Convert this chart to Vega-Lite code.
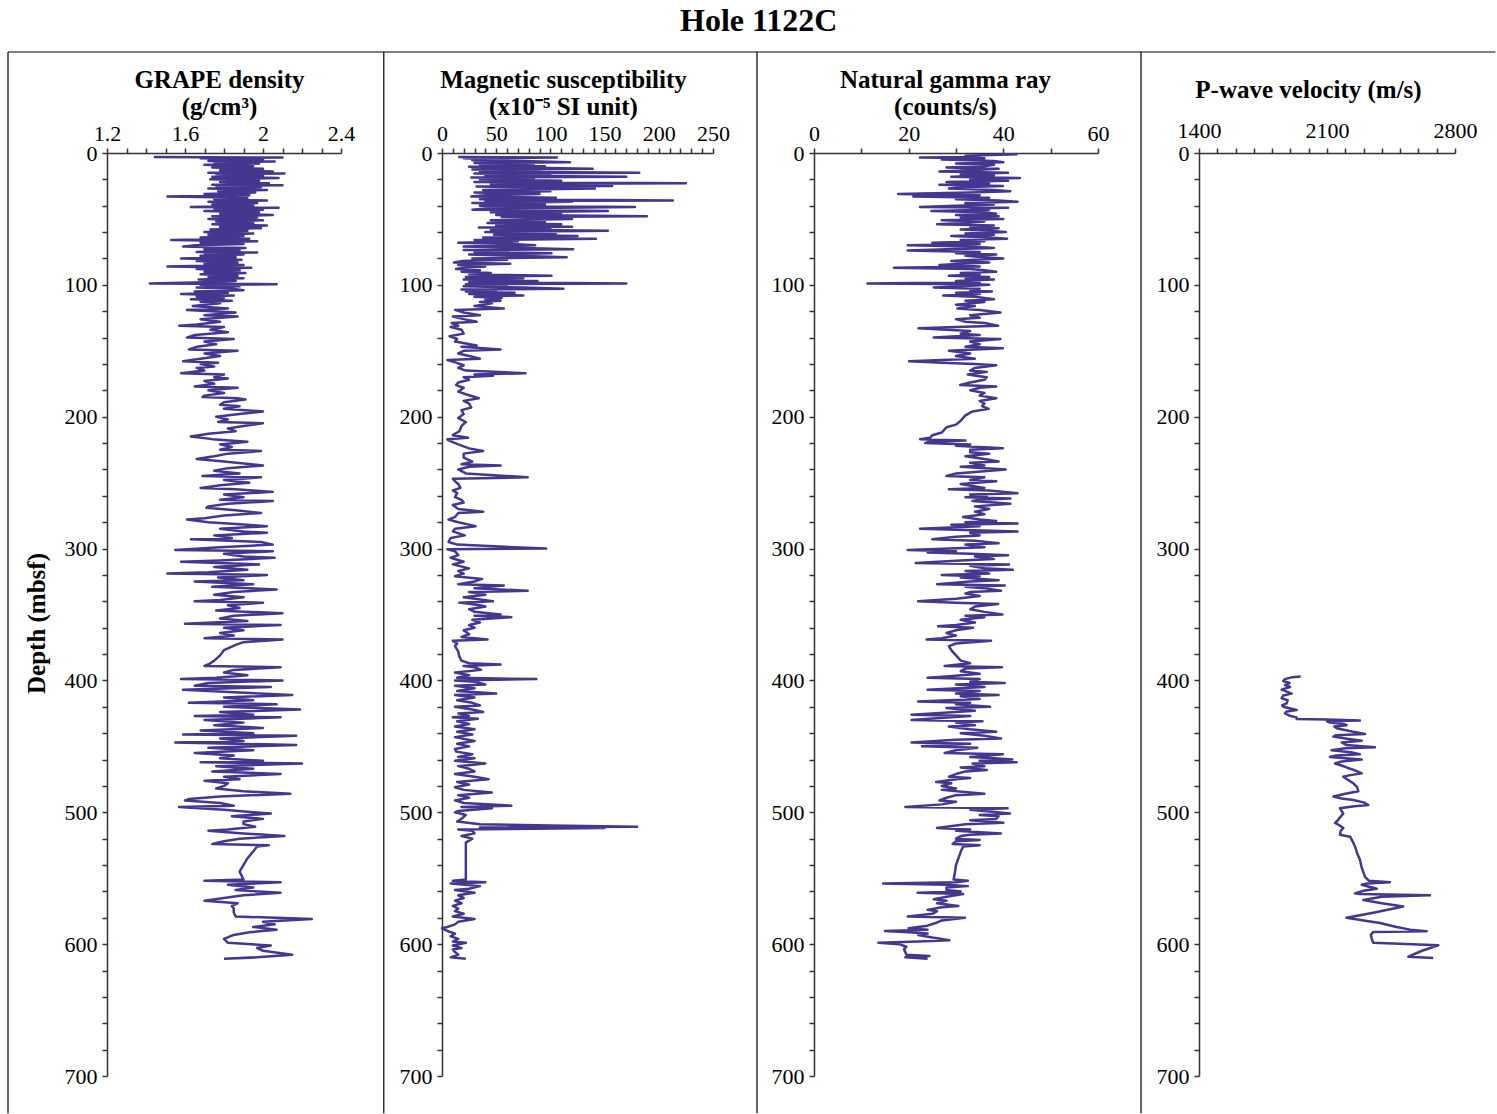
{
"$schema": "https://vega.github.io/schema/vega-lite/v6.json",
"padding": {"left": 7, "top": 5, "right": 0, "bottom": 0},
"title": {"text": "Hole 1122C", "fontSize": 32, "font": "Liberation Serif", "fontWeight": "bold", "color": "black", "offset": 13, "anchor": "middle", "dx": 7},
"bounds": "flush",
"spacing": 101,
"config": {
 "font": "Liberation Serif",
 "view": {"stroke": null},
 "axis": {"labelFont": "Liberation Serif", "labelFontSize": 22, "labelColor": "black", "titleFont": "Liberation Serif", "titleFontSize": 25, "titleFontWeight": "bold", "titleColor": "black", "domainColor": "#333", "domainWidth": 1.5, "tickColor": "#333", "tickWidth": 1.5, "tickSize": 5, "tickCount": 500, "grid": false, "labelFlush": false, "labelOverlap": false, "labelPadding": 3},
 "axisY": {"labelPadding": 5},
 "line": {"color": "#45368f", "strokeWidth": 2.5, "strokeJoin": "round"},
 "rule": {"color": "black", "strokeWidth": 1.2}
},
"datasets": {
"p1": [{"d":3,"v":1.44},{"d":3.5,"v":2.10},{"d":4,"v":1.68},{"d":5,"v":2.0},{"d":6,"v":1.72},{"d":6.5,"v":2.06},{"d":7,"v":1.75},{"d":8,"v":1.98},{"d":9,"v":1.7},{"d":10,"v":1.95},{"d":11,"v":1.74},{"d":12,"v":2.0},{"d":13,"v":1.78},{"d":14,"v":2.05},{"d":15,"v":1.72},{"d":15.5,"v":2.11},{"d":16,"v":1.76},{"d":17,"v":2.0},{"d":18,"v":1.74},{"d":19,"v":2.08},{"d":20,"v":1.73},{"d":21,"v":1.98},{"d":22,"v":1.78},{"d":23,"v":2.03},{"d":24,"v":1.74},{"d":24.5,"v":2.1},{"d":25,"v":1.76},{"d":26,"v":1.99},{"d":27,"v":1.72},{"d":28,"v":2.02},{"d":29,"v":1.77},{"d":30,"v":1.96},{"d":31,"v":1.7},{"d":32,"v":1.93},{"d":33,"v":1.51},{"d":34,"v":1.92},{"d":35,"v":1.75},{"d":36,"v":2.02},{"d":37,"v":1.72},{"d":38,"v":1.97},{"d":39,"v":1.74},{"d":40,"v":1.95},{"d":41,"v":1.63},{"d":41.5,"v":2.08},{"d":42,"v":1.75},{"d":43,"v":2.0},{"d":44,"v":1.7},{"d":45,"v":1.98},{"d":46,"v":1.78},{"d":47,"v":2.05},{"d":48,"v":1.74},{"d":49,"v":1.97},{"d":50,"v":1.72},{"d":51,"v":2.0},{"d":52,"v":1.76},{"d":53,"v":1.95},{"d":54,"v":1.74},{"d":55,"v":2.02},{"d":56,"v":1.78},{"d":57,"v":1.99},{"d":58,"v":1.73},{"d":59,"v":1.92},{"d":60,"v":1.7},{"d":61,"v":1.95},{"d":62,"v":1.72},{"d":63,"v":1.9},{"d":64,"v":1.68},{"d":65,"v":1.93},{"d":66,"v":1.53},{"d":67,"v":1.97},{"d":68,"v":1.68},{"d":69,"v":1.9},{"d":70,"v":1.65},{"d":71,"v":1.59},{"d":72,"v":1.91},{"d":73,"v":1.7},{"d":74,"v":1.88},{"d":75,"v":1.66},{"d":75.5,"v":1.97},{"d":76,"v":1.7},{"d":77,"v":1.9},{"d":78,"v":1.68},{"d":79,"v":1.86},{"d":80,"v":1.58},{"d":81,"v":1.89},{"d":82,"v":1.66},{"d":83,"v":1.87},{"d":84,"v":1.7},{"d":85,"v":1.9},{"d":86,"v":1.51},{"d":87,"v":1.94},{"d":88,"v":1.66},{"d":89,"v":1.88},{"d":90,"v":1.7},{"d":91,"v":1.91},{"d":92,"v":1.68},{"d":93,"v":1.87},{"d":94,"v":1.72},{"d":95,"v":1.9},{"d":96,"v":1.67},{"d":97,"v":1.86},{"d":98,"v":1.7},{"d":99,"v":1.42},{"d":99.5,"v":2.07},{"d":100,"v":1.68},{"d":101,"v":1.88},{"d":102,"v":1.66},{"d":103,"v":1.84},{"d":104,"v":1.9},{"d":105,"v":1.65},{"d":106,"v":1.82},{"d":107,"v":1.58},{"d":108,"v":1.85},{"d":109,"v":1.66},{"d":110,"v":1.8},{"d":111,"v":1.63},{"d":112,"v":1.84},{"d":113,"v":1.68},{"d":114,"v":1.78},{"d":116,"v":1.64},{"d":118,"v":1.82},{"d":119,"v":1.61},{"d":121,"v":1.86},{"d":123,"v":1.7},{"d":124,"v":1.87},{"d":126,"v":1.68},{"d":128,"v":1.78},{"d":130,"v":1.66},{"d":131,"v":1.57},{"d":132,"v":1.8},{"d":134,"v":1.73},{"d":136,"v":1.82},{"d":138,"v":1.65},{"d":140,"v":1.61},{"d":141,"v":1.85},{"d":143,"v":1.7},{"d":145,"v":1.76},{"d":147,"v":1.66},{"d":149,"v":1.62},{"d":150,"v":1.87},{"d":152,"v":1.7},{"d":154,"v":1.78},{"d":156,"v":1.68},{"d":158,"v":1.59},{"d":159,"v":1.77},{"d":160,"v":1.68},{"d":162,"v":1.75},{"d":163,"v":1.66},{"d":165,"v":1.7},{"d":167,"v":1.58},{"d":168,"v":1.8},{"d":170,"v":1.75},{"d":171,"v":1.82},{"d":173,"v":1.7},{"d":175,"v":1.75},{"d":177,"v":1.65},{"d":178,"v":1.87},{"d":180,"v":1.72},{"d":182,"v":1.8},{"d":184,"v":1.7},{"d":185,"v":1.69},{"d":186,"v":1.87},{"d":187,"v":1.91},{"d":189,"v":1.8},{"d":191,"v":1.78},{"d":192,"v":1.88},{"d":194,"v":1.8},{"d":196,"v":2.0},{"d":198,"v":1.88},{"d":200,"v":1.76},{"d":202,"v":1.82},{"d":204,"v":1.77},{"d":205,"v":2.0},{"d":207,"v":1.9},{"d":209,"v":1.82},{"d":211,"v":1.86},{"d":213,"v":1.72},{"d":215,"v":1.63},{"d":217,"v":1.74},{"d":219,"v":1.92},{"d":221,"v":1.78},{"d":223,"v":1.84},{"d":225,"v":1.78},{"d":226,"v":1.99},{"d":228,"v":1.82},{"d":230,"v":1.75},{"d":232,"v":1.66},{"d":234,"v":1.8},{"d":236,"v":1.94},{"d":237,"v":2.0},{"d":239,"v":1.82},{"d":241,"v":1.75},{"d":243,"v":1.88},{"d":245,"v":1.69},{"d":246,"v":1.99},{"d":248,"v":1.8},{"d":250,"v":1.93},{"d":252,"v":1.78},{"d":254,"v":1.68},{"d":255,"v":1.86},{"d":257,"v":2.05},{"d":259,"v":1.8},{"d":261,"v":1.9},{"d":263,"v":1.78},{"d":264,"v":2.05},{"d":266,"v":1.82},{"d":268,"v":1.72},{"d":269,"v":1.71},{"d":271,"v":1.86},{"d":273,"v":1.99},{"d":275,"v":1.8},{"d":277,"v":1.7},{"d":278,"v":1.61},{"d":280,"v":1.72},{"d":282,"v":1.92},{"d":283,"v":2.02},{"d":285,"v":1.78},{"d":287,"v":1.9},{"d":288,"v":2.02},{"d":290,"v":1.75},{"d":292,"v":1.84},{"d":293,"v":1.63},{"d":295,"v":1.99},{"d":297,"v":2.05},{"d":299,"v":1.78},{"d":301,"v":1.55},{"d":302,"v":2.05},{"d":304,"v":1.8},{"d":306,"v":1.9},{"d":307,"v":2.06},{"d":309,"v":1.78},{"d":310,"v":1.58},{"d":312,"v":1.98},{"d":314,"v":1.75},{"d":316,"v":1.92},{"d":318,"v":1.72},{"d":319,"v":1.51},{"d":320,"v":2.02},{"d":322,"v":1.77},{"d":324,"v":1.9},{"d":325,"v":1.65},{"d":327,"v":1.95},{"d":329,"v":1.74},{"d":331,"v":2.07},{"d":333,"v":1.85},{"d":335,"v":1.75},{"d":337,"v":1.9},{"d":339,"v":1.78},{"d":340,"v":1.65},{"d":341,"v":2.0},{"d":343,"v":1.82},{"d":345,"v":1.88},{"d":347,"v":1.76},{"d":349,"v":2.1},{"d":351,"v":1.85},{"d":353,"v":1.78},{"d":355,"v":1.92},{"d":357,"v":1.6},{"d":358,"v":2.09},{"d":360,"v":1.8},{"d":362,"v":1.9},{"d":364,"v":1.78},{"d":366,"v":1.85},{"d":368,"v":1.7},{"d":369,"v":2.1},{"d":371,"v":1.9},{"d":373,"v":1.86},{"d":377,"v":1.8},{"d":381,"v":1.78},{"d":385,"v":1.75},{"d":387,"v":1.73},{"d":389,"v":1.7},{"d":390,"v":2.09},{"d":392,"v":1.85},{"d":394,"v":1.8},{"d":396,"v":1.92},{"d":398,"v":1.76},{"d":399,"v":1.58},{"d":400,"v":2.1},{"d":402,"v":1.72},{"d":404,"v":1.65},{"d":405,"v":2.04},{"d":407,"v":1.59},{"d":409,"v":1.85},{"d":411,"v":2.15},{"d":413,"v":1.8},{"d":415,"v":1.95},{"d":417,"v":1.62},{"d":418,"v":2.07},{"d":420,"v":1.8},{"d":422,"v":2.19},{"d":424,"v":1.78},{"d":426,"v":1.95},{"d":427,"v":1.65},{"d":428,"v":2.09},{"d":430,"v":1.7},{"d":432,"v":1.9},{"d":434,"v":1.75},{"d":436,"v":2.0},{"d":438,"v":1.68},{"d":440,"v":1.95},{"d":441,"v":1.59},{"d":442,"v":2.17},{"d":444,"v":1.78},{"d":446,"v":1.9},{"d":447,"v":1.55},{"d":449,"v":2.17},{"d":451,"v":1.72},{"d":453,"v":1.95},{"d":455,"v":1.65},{"d":457,"v":1.85},{"d":459,"v":1.78},{"d":461,"v":2.0},{"d":462,"v":1.68},{"d":463,"v":2.2},{"d":465,"v":1.76},{"d":467,"v":1.95},{"d":469,"v":1.74},{"d":471,"v":2.09},{"d":473,"v":1.8},{"d":475,"v":1.88},{"d":476,"v":1.7},{"d":478,"v":1.82},{"d":480,"v":1.8},{"d":482,"v":1.76},{"d":484,"v":1.9},{"d":486,"v":2.14},{"d":488,"v":1.78},{"d":490,"v":1.62},{"d":491,"v":1.6},{"d":493,"v":1.78},{"d":495,"v":1.85},{"d":496,"v":1.57},{"d":498,"v":1.8},{"d":500,"v":1.95},{"d":501,"v":2.04},{"d":503,"v":1.84},{"d":505,"v":2.0},{"d":507,"v":1.9},{"d":509,"v":1.9},{"d":511,"v":1.96},{"d":513,"v":1.82},{"d":514,"v":1.72},{"d":516,"v":1.9},{"d":518,"v":2.11},{"d":520,"v":1.88},{"d":522,"v":1.8},{"d":524,"v":1.74},{"d":525,"v":2.03},{"d":526,"v":1.97},{"d":535,"v":1.92},{"d":545,"v":1.88},{"d":551,"v":1.9},{"d":552,"v":1.7},{"d":553,"v":2.09},{"d":555,"v":1.82},{"d":557,"v":1.95},{"d":559,"v":1.86},{"d":561,"v":2.09},{"d":563,"v":1.9},{"d":565,"v":1.8},{"d":567,"v":1.7},{"d":569,"v":1.87},{"d":571,"v":1.84},{"d":573,"v":1.85},{"d":576,"v":1.85},{"d":579,"v":1.86},{"d":581,"v":2.25},{"d":583,"v":2.0},{"d":585,"v":2.06},{"d":587,"v":1.95},{"d":589,"v":2.07},{"d":591,"v":1.93},{"d":593,"v":1.85},{"d":596,"v":1.8},{"d":599,"v":1.82},{"d":601,"v":2.04},{"d":603,"v":1.97},{"d":605,"v":2.0},{"d":608,"v":2.15},{"d":610,"v":1.97},{"d":611,"v":1.8}],
"p2": [{"d":3,"v":15},{"d":3.5,"v":106},{"d":4,"v":20},{"d":5,"v":45},{"d":5.5,"v":28},{"d":6,"v":75},{"d":7,"v":118},{"d":7.5,"v":30},{"d":8,"v":85},{"d":9,"v":35},{"d":10,"v":95},{"d":10.5,"v":25},{"d":11,"v":70},{"d":12,"v":139},{"d":12.5,"v":28},{"d":13,"v":90},{"d":14,"v":35},{"d":15,"v":182},{"d":15.5,"v":30},{"d":16,"v":100},{"d":17,"v":40},{"d":18,"v":170},{"d":18.5,"v":27},{"d":19,"v":85},{"d":20,"v":35},{"d":21,"v":110},{"d":22,"v":30},{"d":23,"v":225},{"d":23.5,"v":45},{"d":24,"v":95},{"d":25,"v":157},{"d":25.5,"v":32},{"d":26,"v":80},{"d":27,"v":141},{"d":28,"v":38},{"d":29,"v":100},{"d":30,"v":30},{"d":31,"v":90},{"d":32,"v":40},{"d":33,"v":27},{"d":34,"v":105},{"d":35,"v":35},{"d":36,"v":213},{"d":36.5,"v":40},{"d":37,"v":120},{"d":38,"v":28},{"d":39,"v":95},{"d":40,"v":35},{"d":41,"v":178},{"d":42,"v":40},{"d":43,"v":28},{"d":44,"v":153},{"d":45,"v":45},{"d":46,"v":110},{"d":47,"v":50},{"d":48,"v":189},{"d":48.5,"v":55},{"d":49,"v":100},{"d":50,"v":120},{"d":51,"v":45},{"d":52,"v":95},{"d":53,"v":42},{"d":54,"v":110},{"d":55,"v":50},{"d":56,"v":120},{"d":56.5,"v":34},{"d":57,"v":100},{"d":58,"v":45},{"d":59,"v":153},{"d":60,"v":40},{"d":61,"v":105},{"d":62,"v":48},{"d":63,"v":125},{"d":64,"v":38},{"d":65,"v":142},{"d":66,"v":30},{"d":67,"v":70},{"d":68,"v":15},{"d":69,"v":65},{"d":70,"v":86},{"d":71,"v":20},{"d":72,"v":75},{"d":73,"v":121},{"d":73.5,"v":20},{"d":74,"v":60},{"d":75,"v":30},{"d":76,"v":101},{"d":77,"v":25},{"d":78,"v":70},{"d":79,"v":115},{"d":80,"v":28},{"d":81,"v":60},{"d":82,"v":18},{"d":83,"v":11},{"d":84,"v":63},{"d":85,"v":15},{"d":86,"v":40},{"d":87,"v":20},{"d":88,"v":13},{"d":89,"v":35},{"d":90,"v":18},{"d":91,"v":45},{"d":92,"v":25},{"d":93,"v":101},{"d":94,"v":22},{"d":95,"v":75},{"d":96,"v":20},{"d":97,"v":88},{"d":98,"v":25},{"d":99,"v":170},{"d":99.5,"v":22},{"d":100,"v":60},{"d":101,"v":20},{"d":102,"v":75},{"d":103,"v":112},{"d":103.5,"v":18},{"d":104,"v":50},{"d":105,"v":22},{"d":106,"v":67},{"d":107,"v":25},{"d":108,"v":75},{"d":109,"v":30},{"d":110,"v":55},{"d":111,"v":40},{"d":112,"v":54},{"d":113,"v":35},{"d":114,"v":46},{"d":116,"v":30},{"d":118,"v":57},{"d":119,"v":12},{"d":121,"v":20},{"d":123,"v":35},{"d":124,"v":10},{"d":126,"v":20},{"d":128,"v":32},{"d":129,"v":9},{"d":131,"v":15},{"d":132,"v":8},{"d":134,"v":18},{"d":137,"v":20},{"d":139,"v":7},{"d":141,"v":14},{"d":143,"v":12},{"d":146,"v":32},{"d":147,"v":18},{"d":149,"v":54},{"d":150,"v":20},{"d":152,"v":15},{"d":154,"v":25},{"d":156,"v":35},{"d":157,"v":5},{"d":159,"v":13},{"d":161,"v":20},{"d":163,"v":15},{"d":165,"v":22},{"d":167,"v":77},{"d":168,"v":30},{"d":169,"v":47},{"d":170,"v":20},{"d":172,"v":25},{"d":174,"v":15},{"d":176,"v":13},{"d":178,"v":20},{"d":181,"v":15},{"d":183,"v":22},{"d":186,"v":34},{"d":188,"v":20},{"d":190,"v":25},{"d":193,"v":27},{"d":195,"v":18},{"d":198,"v":20},{"d":201,"v":15},{"d":204,"v":22},{"d":207,"v":18},{"d":211,"v":16},{"d":214,"v":10},{"d":216,"v":24},{"d":217,"v":5},{"d":218,"v":6},{"d":221,"v":15},{"d":224,"v":25},{"d":226,"v":38},{"d":228,"v":20},{"d":231,"v":20},{"d":234,"v":28},{"d":236,"v":18},{"d":237,"v":54},{"d":238,"v":25},{"d":240,"v":15},{"d":243,"v":22},{"d":246,"v":79},{"d":247,"v":10},{"d":249,"v":12},{"d":251,"v":15},{"d":254,"v":17},{"d":256,"v":10},{"d":258,"v":14},{"d":261,"v":12},{"d":263,"v":18},{"d":265,"v":20},{"d":267,"v":10},{"d":270,"v":15},{"d":272,"v":38},{"d":273,"v":15},{"d":276,"v":12},{"d":278,"v":6},{"d":280,"v":15},{"d":283,"v":31},{"d":285,"v":12},{"d":287,"v":10},{"d":290,"v":21},{"d":292,"v":8},{"d":295,"v":6},{"d":297,"v":14},{"d":300,"v":96},{"d":300.5,"v":5},{"d":302,"v":12},{"d":305,"v":15},{"d":307,"v":8},{"d":310,"v":20},{"d":312,"v":10},{"d":315,"v":25},{"d":317,"v":15},{"d":319,"v":20},{"d":321,"v":12},{"d":323,"v":37},{"d":325,"v":30},{"d":327,"v":15},{"d":328,"v":57},{"d":330,"v":30},{"d":332,"v":79},{"d":333,"v":25},{"d":335,"v":40},{"d":337,"v":20},{"d":340,"v":47},{"d":341,"v":16},{"d":343,"v":35},{"d":344,"v":40},{"d":346,"v":25},{"d":348,"v":30},{"d":350,"v":54},{"d":351,"v":30},{"d":352,"v":64},{"d":354,"v":28},{"d":356,"v":35},{"d":358,"v":25},{"d":360,"v":30},{"d":362,"v":20},{"d":365,"v":25},{"d":367,"v":18},{"d":369,"v":42},{"d":370,"v":10},{"d":372,"v":14},{"d":374,"v":12},{"d":378,"v":15},{"d":382,"v":16},{"d":385,"v":18},{"d":387,"v":25},{"d":388,"v":54},{"d":389,"v":20},{"d":390,"v":30},{"d":392,"v":36},{"d":394,"v":12},{"d":396,"v":25},{"d":398,"v":14},{"d":399,"v":87},{"d":400,"v":12},{"d":401,"v":30},{"d":403,"v":40},{"d":404,"v":12},{"d":406,"v":30},{"d":408,"v":14},{"d":410,"v":50},{"d":411,"v":12},{"d":413,"v":30},{"d":415,"v":14},{"d":417,"v":28},{"d":419,"v":35},{"d":420,"v":12},{"d":422,"v":28},{"d":424,"v":38},{"d":425,"v":15},{"d":427,"v":25},{"d":428,"v":10},{"d":429,"v":33},{"d":431,"v":14},{"d":433,"v":25},{"d":435,"v":12},{"d":437,"v":30},{"d":439,"v":14},{"d":441,"v":28},{"d":443,"v":12},{"d":446,"v":30},{"d":448,"v":14},{"d":450,"v":25},{"d":452,"v":12},{"d":454,"v":13},{"d":456,"v":28},{"d":458,"v":15},{"d":459,"v":30},{"d":461,"v":12},{"d":463,"v":40},{"d":465,"v":15},{"d":467,"v":25},{"d":469,"v":30},{"d":471,"v":12},{"d":473,"v":30},{"d":475,"v":43},{"d":477,"v":14},{"d":479,"v":25},{"d":481,"v":12},{"d":483,"v":20},{"d":485,"v":46},{"d":487,"v":15},{"d":489,"v":25},{"d":491,"v":12},{"d":493,"v":20},{"d":495,"v":64},{"d":496,"v":18},{"d":497,"v":46},{"d":499,"v":15},{"d":500,"v":12},{"d":502,"v":22},{"d":505,"v":18},{"d":507,"v":14},{"d":509,"v":35},{"d":510,"v":100},{"d":511,"v":180},{"d":511.5,"v":35},{"d":512,"v":150},{"d":513,"v":15},{"d":514,"v":28},{"d":516,"v":30},{"d":518,"v":18},{"d":520,"v":28},{"d":523,"v":22},{"d":535,"v":22},{"d":545,"v":22},{"d":551,"v":22},{"d":552,"v":10},{"d":553,"v":40},{"d":554,"v":8},{"d":556,"v":35},{"d":558,"v":25},{"d":559,"v":12},{"d":561,"v":30},{"d":563,"v":15},{"d":565,"v":20},{"d":567,"v":12},{"d":569,"v":18},{"d":571,"v":10},{"d":573,"v":15},{"d":575,"v":12},{"d":577,"v":20},{"d":579,"v":10},{"d":581,"v":30},{"d":583,"v":15},{"d":585,"v":12},{"d":587,"v":5},{"d":588,"v":0},{"d":590,"v":5},{"d":592,"v":12},{"d":594,"v":8},{"d":596,"v":15},{"d":598,"v":10},{"d":599,"v":22},{"d":601,"v":10},{"d":603,"v":18},{"d":604,"v":10},{"d":606,"v":12},{"d":608,"v":15},{"d":610,"v":8},{"d":611,"v":22}],
"p3": [{"d":1,"v":43},{"d":2,"v":32},{"d":3,"v":35},{"d":3.5,"v":22.4},{"d":4,"v":36},{"d":5,"v":27},{"d":6,"v":38},{"d":7,"v":40},{"d":8,"v":30},{"d":9,"v":38},{"d":10,"v":36},{"d":11,"v":28},{"d":12,"v":39},{"d":13,"v":33},{"d":14,"v":26.5},{"d":15,"v":41},{"d":16,"v":31},{"d":17,"v":38},{"d":18,"v":29},{"d":19,"v":43.5},{"d":20,"v":33},{"d":21,"v":41},{"d":22,"v":28},{"d":23,"v":37},{"d":24,"v":26.5},{"d":25,"v":39.9},{"d":26,"v":31},{"d":27,"v":28.5},{"d":28,"v":38},{"d":29,"v":41.5},{"d":30,"v":33},{"d":31,"v":17.8},{"d":32,"v":35},{"d":33,"v":21},{"d":34,"v":37},{"d":35,"v":30},{"d":36,"v":39},{"d":37,"v":43},{"d":38,"v":32},{"d":39,"v":38},{"d":40,"v":30},{"d":41,"v":22.4},{"d":41.5,"v":41},{"d":42,"v":33},{"d":43,"v":37},{"d":44,"v":24.8},{"d":45,"v":36},{"d":46,"v":38.5},{"d":47,"v":30},{"d":48,"v":39},{"d":49,"v":31},{"d":50,"v":40},{"d":51,"v":27},{"d":52,"v":36},{"d":53,"v":32},{"d":54,"v":26},{"d":55,"v":38},{"d":56,"v":33},{"d":57,"v":39},{"d":58,"v":31},{"d":59,"v":37},{"d":60,"v":40.5},{"d":61,"v":32},{"d":62,"v":38},{"d":63,"v":29},{"d":64,"v":37},{"d":65,"v":40.8},{"d":66,"v":31},{"d":67,"v":36},{"d":68,"v":25},{"d":69,"v":35},{"d":70,"v":19.8},{"d":71,"v":33},{"d":72,"v":38},{"d":73,"v":28},{"d":74,"v":19.8},{"d":75,"v":35},{"d":76,"v":30},{"d":77,"v":38.5},{"d":78,"v":32},{"d":79,"v":36},{"d":80,"v":40},{"d":81,"v":34},{"d":82,"v":29},{"d":83,"v":37},{"d":84,"v":31},{"d":85,"v":26.5},{"d":86,"v":35},{"d":87,"v":16.9},{"d":88,"v":33},{"d":89,"v":36},{"d":90,"v":38.5},{"d":91,"v":31},{"d":92,"v":35},{"d":93,"v":28.5},{"d":94,"v":37},{"d":95,"v":32},{"d":96,"v":38},{"d":97,"v":30},{"d":98,"v":35},{"d":99,"v":11.3},{"d":99.5,"v":34},{"d":100,"v":37},{"d":101,"v":31},{"d":102,"v":25.3},{"d":103,"v":35},{"d":104,"v":33},{"d":105,"v":37.6},{"d":106,"v":30},{"d":107,"v":35},{"d":108,"v":27.3},{"d":109,"v":34},{"d":110,"v":36},{"d":111,"v":38},{"d":112,"v":32},{"d":113,"v":36},{"d":115,"v":30},{"d":116,"v":34},{"d":118,"v":30.3},{"d":119,"v":35},{"d":121,"v":39.4},{"d":123,"v":33},{"d":125,"v":35},{"d":126,"v":30},{"d":128,"v":32},{"d":129,"v":36},{"d":131,"v":38.9},{"d":132,"v":30},{"d":133,"v":22.1},{"d":134,"v":28},{"d":135,"v":33},{"d":137,"v":31},{"d":138,"v":35},{"d":140,"v":25.3},{"d":141,"v":39.4},{"d":143,"v":33},{"d":145,"v":35},{"d":147,"v":32},{"d":148,"v":39.9},{"d":149,"v":34},{"d":150,"v":28.5},{"d":152,"v":33},{"d":154,"v":30},{"d":156,"v":34},{"d":158,"v":20.1},{"d":159,"v":27},{"d":160,"v":34},{"d":161,"v":38.5},{"d":163,"v":34},{"d":165,"v":33},{"d":166,"v":36.5},{"d":168,"v":32.5},{"d":170,"v":36.5},{"d":172,"v":36},{"d":174,"v":33},{"d":176,"v":30.9},{"d":177,"v":38.5},{"d":178,"v":35},{"d":180,"v":33},{"d":182,"v":36},{"d":184,"v":35},{"d":186,"v":38.5},{"d":188,"v":35},{"d":190,"v":36},{"d":192,"v":35.5},{"d":194,"v":36.9},{"d":196,"v":33.5},{"d":199,"v":32},{"d":203,"v":31},{"d":206,"v":30},{"d":208,"v":28},{"d":210,"v":27.5},{"d":212,"v":27},{"d":214,"v":25},{"d":216,"v":24.5},{"d":217,"v":22.4},{"d":218,"v":32},{"d":219,"v":24.5},{"d":220,"v":23.5},{"d":221,"v":33},{"d":222,"v":30},{"d":224,"v":39.9},{"d":225,"v":33},{"d":227,"v":33},{"d":228,"v":37},{"d":230,"v":32},{"d":232,"v":36},{"d":234,"v":39},{"d":235,"v":33},{"d":237,"v":36},{"d":238,"v":31},{"d":240,"v":40.5},{"d":242,"v":34},{"d":243,"v":30},{"d":245,"v":28},{"d":246,"v":36},{"d":248,"v":33},{"d":249,"v":38.5},{"d":251,"v":31},{"d":252,"v":32.5},{"d":254,"v":36},{"d":255,"v":28.5},{"d":256,"v":37},{"d":258,"v":43},{"d":259,"v":33},{"d":260,"v":36.5},{"d":261,"v":32},{"d":262,"v":41.5},{"d":263,"v":35},{"d":264,"v":33.5},{"d":265,"v":38},{"d":266,"v":41.5},{"d":268,"v":34},{"d":270,"v":37},{"d":272,"v":34},{"d":274,"v":36},{"d":276,"v":31.5},{"d":278,"v":35},{"d":279,"v":38.5},{"d":280,"v":32},{"d":281,"v":43},{"d":282,"v":29},{"d":283,"v":35},{"d":285,"v":22.4},{"d":286,"v":32},{"d":287,"v":43},{"d":288,"v":33},{"d":290,"v":35},{"d":291,"v":30},{"d":293,"v":25},{"d":294,"v":34},{"d":296,"v":39},{"d":297,"v":32},{"d":299,"v":36},{"d":301,"v":19.8},{"d":302,"v":30},{"d":303,"v":24},{"d":304,"v":33},{"d":305,"v":41},{"d":306,"v":34},{"d":308,"v":38},{"d":309,"v":31},{"d":311,"v":21.5},{"d":312,"v":41.2},{"d":313,"v":33},{"d":315,"v":36},{"d":316,"v":42},{"d":317,"v":32},{"d":319,"v":37},{"d":320,"v":27},{"d":321,"v":35},{"d":322,"v":31},{"d":324,"v":39},{"d":325,"v":33},{"d":327,"v":26},{"d":328,"v":40.3},{"d":329,"v":32},{"d":330,"v":36},{"d":332,"v":39.5},{"d":333,"v":33},{"d":334,"v":32},{"d":336,"v":35},{"d":338,"v":30},{"d":340,"v":22},{"d":341,"v":30},{"d":342,"v":38.9},{"d":344,"v":34},{"d":346,"v":33},{"d":348,"v":36},{"d":350,"v":39.8},{"d":351,"v":32},{"d":352,"v":36},{"d":354,"v":31},{"d":356,"v":34},{"d":358,"v":30},{"d":359,"v":26.2},{"d":360,"v":33.6},{"d":362,"v":30},{"d":364,"v":28},{"d":366,"v":30},{"d":368,"v":27},{"d":369,"v":23.8},{"d":370,"v":37.4},{"d":372,"v":30},{"d":374,"v":28.5},{"d":377,"v":29},{"d":381,"v":30},{"d":385,"v":31},{"d":387,"v":33},{"d":389,"v":27.6},{"d":390,"v":39.7},{"d":391,"v":32},{"d":393,"v":31},{"d":395,"v":35},{"d":397,"v":28},{"d":398,"v":24},{"d":399,"v":35},{"d":401,"v":33},{"d":402,"v":40.3},{"d":403,"v":30},{"d":405,"v":36},{"d":407,"v":24},{"d":408,"v":35},{"d":410,"v":30},{"d":411,"v":39},{"d":412,"v":31},{"d":414,"v":35},{"d":416,"v":22},{"d":417,"v":33},{"d":418,"v":30},{"d":420,"v":37.2},{"d":421,"v":28},{"d":423,"v":34},{"d":424,"v":30},{"d":426,"v":20.6},{"d":427,"v":33},{"d":428,"v":29},{"d":430,"v":20.6},{"d":431,"v":35.6},{"d":432,"v":30},{"d":434,"v":34},{"d":435,"v":28.5},{"d":437,"v":33},{"d":439,"v":38.5},{"d":440,"v":31},{"d":442,"v":36},{"d":444,"v":39.5},{"d":445,"v":30},{"d":447,"v":20.6},{"d":448,"v":33},{"d":449,"v":28},{"d":450,"v":22.8},{"d":451,"v":34.5},{"d":453,"v":30},{"d":455,"v":27.6},{"d":456,"v":39.9},{"d":458,"v":33},{"d":459,"v":38},{"d":460,"v":41.9},{"d":461,"v":35},{"d":462,"v":42.8},{"d":463,"v":33.5},{"d":465,"v":36},{"d":466,"v":31},{"d":468,"v":36.5},{"d":469,"v":32},{"d":471,"v":30},{"d":473,"v":28.5},{"d":474,"v":33},{"d":475,"v":30},{"d":477,"v":25.8},{"d":478,"v":29},{"d":480,"v":27},{"d":482,"v":30},{"d":483,"v":27},{"d":485,"v":33},{"d":486,"v":36},{"d":487,"v":30},{"d":489,"v":28},{"d":491,"v":26.5},{"d":492,"v":30},{"d":494,"v":27},{"d":496,"v":19.3},{"d":497,"v":40.9},{"d":498,"v":33},{"d":499,"v":36},{"d":501,"v":41.4},{"d":502,"v":35},{"d":503,"v":39},{"d":505,"v":38.5},{"d":506,"v":33},{"d":508,"v":40},{"d":509,"v":32},{"d":510,"v":30},{"d":512,"v":26},{"d":513,"v":33},{"d":514,"v":30},{"d":516,"v":39.5},{"d":517,"v":33},{"d":518,"v":31},{"d":520,"v":30},{"d":521,"v":35},{"d":522,"v":30},{"d":524,"v":29.3},{"d":525,"v":35},{"d":526,"v":31.5},{"d":530,"v":31},{"d":535,"v":30.5},{"d":540,"v":30},{"d":545,"v":29.8},{"d":551,"v":29.5},{"d":552,"v":32.5},{"d":553,"v":30},{"d":554,"v":14.6},{"d":555,"v":28},{"d":556,"v":32.5},{"d":557,"v":28},{"d":559,"v":28},{"d":560,"v":31},{"d":561,"v":21.9},{"d":562,"v":31.5},{"d":564,"v":28},{"d":566,"v":25.3},{"d":567,"v":28},{"d":569,"v":26},{"d":571,"v":30.5},{"d":572,"v":27},{"d":574,"v":24},{"d":575,"v":26},{"d":577,"v":25},{"d":579,"v":19.8},{"d":580,"v":31.9},{"d":582,"v":27},{"d":584,"v":25.7},{"d":586,"v":24},{"d":588,"v":20},{"d":589,"v":24},{"d":590,"v":15},{"d":591,"v":20},{"d":592,"v":24},{"d":593,"v":22},{"d":595,"v":25},{"d":597,"v":28.6},{"d":598,"v":22},{"d":599,"v":13.6},{"d":600,"v":18},{"d":602,"v":19.5},{"d":604,"v":19},{"d":606,"v":19.3},{"d":608,"v":19.5},{"d":609,"v":24.4},{"d":610,"v":19.3},{"d":611,"v":24}],
"p4": [{"d":397,"v":1956},{"d":397.5,"v":1910},{"d":399,"v":1870},{"d":400.5,"v":1861},{"d":402,"v":1895},{"d":403.5,"v":1870},{"d":405,"v":1898},{"d":407,"v":1852},{"d":408.5,"v":1880},{"d":410,"v":1907},{"d":411.5,"v":1860},{"d":413.6,"v":1852},{"d":415,"v":1885},{"d":417.4,"v":1879},{"d":419,"v":1855},{"d":420,"v":1861},{"d":422.4,"v":1934},{"d":423.5,"v":1880},{"d":425,"v":1870},{"d":427,"v":1900},{"d":428,"v":1934},{"d":429.2,"v":1934},{"d":429.6,"v":2098},{"d":430.3,"v":2280},{"d":431,"v":2100},{"d":432,"v":2116},{"d":433,"v":2190},{"d":434,"v":2207},{"d":435,"v":2140},{"d":436.3,"v":2153},{"d":438,"v":2210},{"d":439,"v":2244},{"d":440.6,"v":2308},{"d":441.5,"v":2150},{"d":442.6,"v":2135},{"d":444,"v":2200},{"d":445.7,"v":2290},{"d":447,"v":2180},{"d":449,"v":2207},{"d":450.7,"v":2362},{"d":451.5,"v":2200},{"d":453,"v":2125},{"d":454.5,"v":2230},{"d":456,"v":2280},{"d":457,"v":2150},{"d":458,"v":2116},{"d":459,"v":2200},{"d":460,"v":2290},{"d":461.5,"v":2180},{"d":463,"v":2144},{"d":464.5,"v":2180},{"d":466,"v":2207},{"d":468,"v":2250},{"d":470.5,"v":2290},{"d":472,"v":2220},{"d":473,"v":2189},{"d":475,"v":2210},{"d":478,"v":2244},{"d":481,"v":2265},{"d":484,"v":2271},{"d":486,"v":2200},{"d":488,"v":2135},{"d":489.5,"v":2180},{"d":490.7,"v":2244},{"d":492.5,"v":2300},{"d":494.5,"v":2326},{"d":495.5,"v":2250},{"d":497,"v":2171},{"d":499,"v":2180},{"d":501,"v":2189},{"d":504,"v":2170},{"d":506,"v":2160},{"d":508,"v":2144},{"d":510,"v":2170},{"d":512,"v":2189},{"d":514,"v":2175},{"d":517,"v":2171},{"d":518.5,"v":2226},{"d":522,"v":2240},{"d":526,"v":2253},{"d":531,"v":2265},{"d":536,"v":2280},{"d":542,"v":2290},{"d":549,"v":2308},{"d":552,"v":2330},{"d":553,"v":2444},{"d":554,"v":2320},{"d":555,"v":2290},{"d":556.5,"v":2330},{"d":558,"v":2372},{"d":559.5,"v":2300},{"d":561.5,"v":2253},{"d":562,"v":2280},{"d":563,"v":2663},{"d":564,"v":2400},{"d":566.5,"v":2299},{"d":569,"v":2400},{"d":571.5,"v":2517},{"d":576,"v":2360},{"d":580,"v":2207},{"d":582,"v":2300},{"d":584,"v":2390},{"d":587,"v":2480},{"d":589,"v":2554},{"d":590.3,"v":2645},{"d":590.8,"v":2353},{"d":593,"v":2340},{"d":596,"v":2345},{"d":599,"v":2353},{"d":600.3,"v":2600},{"d":600.8,"v":2709},{"d":605,"v":2620},{"d":609.5,"v":2545},{"d":610.5,"v":2681}]
},
"hconcat": [
{
 "width": 234, "height": 923,
 "layer": [
  {"data": {"name": "p1"}, "mark": {"type": "line"},
   "encoding": {
    "x": {"field": "v", "type": "quantitative", "scale": {"domain": [1.2, 2.4], "nice": false, "zero": false},
      "axis": {"orient": "top", "title": ["GRAPE density", "(g/cm³)"], "titleX": 112, "titlePadding": 3, "titleLineHeight": 26.5, "values": [1.2,1.3,1.4,1.5,1.6,1.7,1.8,1.9,2.0,2.1,2.2,2.3,2.4], "labelExpr": "round(datum.value*10) % 4 == 0 ? format(datum.value, '~g') : ''"}},
    "y": {"field": "d", "type": "quantitative", "scale": {"domain": [0, 700], "reverse": true, "nice": false},
      "axis": {"title": "Depth (mbsf)", "titleFontSize": 25, "titlePadding": 15, "titleY": 470, "format": "d", "values": [0,20,40,60,80,100,120,140,160,180,200,220,240,260,280,300,320,340,360,380,400,420,440,460,480,500,520,540,560,580,600,620,640,660,680,700], "labelExpr": "datum.value % 100 == 0 ? datum.label : ''"}},
    "order": {"field": "d"}
   }},
  {"data": {"values": [{}]}, "mark": {"type": "rule"}, "encoding": {"x": {"datum": 0.6923}, "y": {"datum": -76.6}, "y2": {"datum": 728.2}}},
  {"data": {"values": [{}]}, "mark": {"type": "rule"}, "encoding": {"x": {"datum": 0.6923}, "x2": {"datum": 8.32}, "y": {"datum": -76.6}}}
 ]
},
{
 "width": 271, "height": 923,
 "layer": [
  {"data": {"name": "p2"}, "mark": {"type": "line"},
   "encoding": {
    "x": {"field": "v", "type": "quantitative", "scale": {"domain": [0, 250], "nice": false},
      "axis": {"orient": "top", "title": ["Magnetic susceptibility", "(x10⁻⁵ SI unit)"], "titleX": 121, "titlePadding": 3, "titleLineHeight": 26.5, "format": "d", "values": [0,10,20,30,40,50,60,70,80,90,100,110,120,130,140,150,160,170,180,190,200,210,220,230,240,250], "labelExpr": "datum.value % 50 == 0 ? datum.label : ''"}},
    "y": {"field": "d", "type": "quantitative", "scale": {"domain": [0, 700], "reverse": true, "nice": false},
      "axis": {"title": null, "format": "d", "values": [0,20,40,60,80,100,120,140,160,180,200,220,240,260,280,300,320,340,360,380,400,420,440,460,480,500,520,540,560,580,600,620,640,660,680,700], "labelExpr": "datum.value % 100 == 0 ? datum.label : ''"}},
    "order": {"field": "d"}
   }},
  {"data": {"values": [{}]}, "mark": {"type": "rule"}, "encoding": {"x": {"datum": -53.7}, "y": {"datum": -76.6}, "y2": {"datum": 728.2}}}
 ]
},
{
 "width": 284, "height": 923,
 "layer": [
  {"data": {"name": "p3"}, "mark": {"type": "line"},
   "encoding": {
    "x": {"field": "v", "type": "quantitative", "scale": {"domain": [0, 60], "nice": false},
      "axis": {"orient": "top", "title": ["Natural gamma ray", "(counts/s)"], "titleX": 131, "titlePadding": 3, "titleLineHeight": 26.5, "format": "d", "values": [0,10,20,30,40,50,60], "labelExpr": "datum.value % 20 == 0 ? datum.label : ''"}},
    "y": {"field": "d", "type": "quantitative", "scale": {"domain": [0, 700], "reverse": true, "nice": false},
      "axis": {"title": null, "format": "d", "values": [0,20,40,60,80,100,120,140,160,180,200,220,240,260,280,300,320,340,360,380,400,420,440,460,480,500,520,540,560,580,600,620,640,660,680,700], "labelExpr": "datum.value % 100 == 0 ? datum.label : ''"}},
    "order": {"field": "d"}
   }},
  {"data": {"values": [{}]}, "mark": {"type": "rule"}, "encoding": {"x": {"datum": -12.04}, "y": {"datum": -76.6}, "y2": {"datum": 728.2}}}
 ]
},
{
 "width": 256, "height": 923,
 "layer": [
  {"data": {"name": "p4"}, "mark": {"type": "line"},
   "encoding": {
    "x": {"field": "v", "type": "quantitative", "scale": {"domain": [1400, 2800], "nice": false, "zero": false},
      "axis": {"orient": "top", "title": "P-wave velocity (m/s)", "titleX": 109, "titlePadding": 17, "format": "d", "labelPadding": 6, "values": [1400,1500,1600,1700,1800,1900,2000,2100,2200,2300,2400,2500,2600,2700,2800], "labelExpr": "(datum.value - 1400) % 700 == 0 ? datum.label : ''"}},
    "y": {"field": "d", "type": "quantitative", "scale": {"domain": [0, 700], "reverse": true, "nice": false},
      "axis": {"title": null, "format": "d", "values": [0,20,40,60,80,100,120,140,160,180,200,220,240,260,280,300,320,340,360,380,400,420,440,460,480,500,520,540,560,580,600,620,640,660,680,700], "labelExpr": "datum.value % 100 == 0 ? datum.label : ''"}},
    "order": {"field": "d"}
   }},
  {"data": {"values": [{}]}, "mark": {"type": "rule"}, "encoding": {"x": {"datum": 1082.8}, "y": {"datum": -76.6}, "y2": {"datum": 728.2}}}
 ]
}
]
}
